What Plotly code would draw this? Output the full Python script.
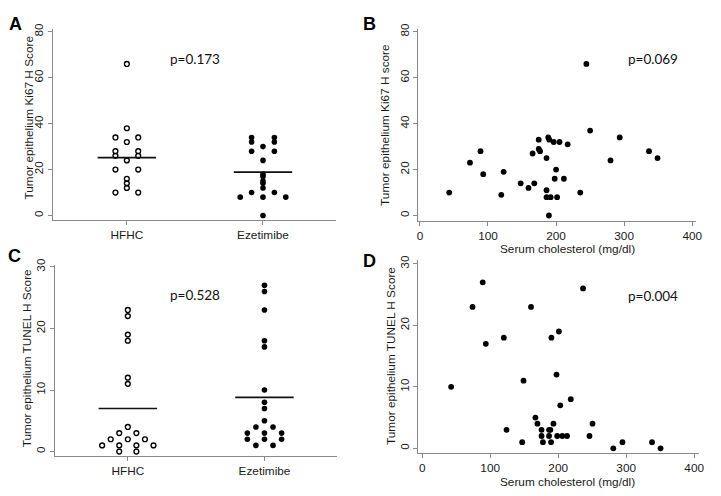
import plotly.graph_objects as go
from collections import Counter, defaultdict

# The page body has an 8px margin; the figure is sized so it fills the rest of the window.
OFF = 8
W, H = 721 - OFF, 496 - OFF

# ---------------- data ----------------
groups = ["HFHC", "Ezetimibe"]

ki67_hfhc = [66, 38, 34, 34, 32, 28, 28, 26, 26, 24, 20, 20, 16, 14, 12, 10, 10]
ki67_eze = [34, 34, 32, 32, 30, 28, 28, 24, 18, 17, 15, 14, 12, 10, 10, 8, 8, 8, 0]
ki67_means = [25.2, 18.9]

tunel_hfhc = [23, 22, 19, 18, 12, 11, 4, 3, 3, 2, 2, 2, 1, 1, 1, 1, 0, 0]
tunel_eze = [27, 26, 23, 18, 17, 10, 8, 7, 5, 4, 4, 3, 3, 3, 2, 2, 2, 1, 1]
tunel_means = [7.0, 8.8]

chol_b = [43, 73.5, 89, 93, 119.5, 123, 148, 159.5, 168, 165.5, 174.5, 174.5, 176.5,
          186, 186, 186, 192, 188.5, 190, 189.5, 196.5, 200, 198, 201.5, 205, 217,
          211.5, 235.5, 244.5, 250, 280, 293.5, 336.5, 349]
ki67_b = [10, 23, 28, 18, 9, 19, 14, 12, 14, 27, 33, 29, 28,
          25, 11, 8, 8, 34, 33, 0, 32, 20, 16, 8, 32, 31,
          16, 10, 66, 37, 24, 34, 28, 25]

chol_d = [42.5, 74, 89, 93.5, 120, 124, 147, 149, 160, 166.5, 169.5, 175.5, 175.5,
          177.5, 186.5, 186.5, 188.5, 190, 189.5, 193, 197.5, 198.5, 201, 203, 206,
          213, 218.5, 236.5, 246, 250.5, 281, 294.5, 338, 350.5]
tunel_d = [10, 23, 27, 17, 18, 3, 1, 11, 23, 5, 4, 3, 2,
           1, 3, 2, 3, 18, 1, 4, 12, 2, 19, 7, 2,
           2, 8, 26, 2, 4, 0, 1, 1, 0]

p_values = ["p=0.173", "p=0.069", "p=0.528", "p=0.004"]
panel_letters = ["A", "B", "C", "D"]
ytitles = ["Tumor epithelium Ki67 H Score", "Tumor epithelium Ki67 H score",
           "Tumor epithelium TUNEL H Score", "Tumor epithelium TUNEL H Score"]
xtitle_scatter = "Serum cholesterol (mg/dl)"


# ---------------- helpers (window pixel -> figure fraction) ----------------
def xd(a, b):
    return [(a - OFF) / W, (b - OFF) / W]


def yd(top, bottom):
    return [1 - (bottom - OFF) / H, 1 - (top - OFF) / H]


def px(x, y):
    return dict(x=(x - OFF) / W, y=1 - (y - OFF) / H, xref="paper", yref="paper")


def dot_offsets(values, spacing):
    counts = Counter(values)
    seen = defaultdict(int)
    offs = []
    for v in values:
        n = counts[v]
        i = seen[v]
        seen[v] += 1
        offs.append((i - (n - 1) / 2) * spacing)
    return offs


DARK = "black"
AXC = "#8a8a8a"
TFONT = dict(family="Arial", size=11.8, color="#1a1a1a")

fig = go.Figure()


def add_dotplot(xa, ya, hfhc, eze, means, spacing, halfw):
    xs = [1 + o for o in dot_offsets(hfhc, spacing)]
    fig.add_trace(go.Scatter(x=xs, y=hfhc, mode="markers", xaxis=xa, yaxis=ya,
                             marker=dict(symbol="circle-open", size=4.8, color=DARK,
                                         line=dict(width=1.4, color=DARK)),
                             showlegend=False))
    xs = [2 + o for o in dot_offsets(eze, spacing)]
    fig.add_trace(go.Scatter(x=xs, y=eze, mode="markers", xaxis=xa, yaxis=ya,
                             marker=dict(symbol="circle", size=5.6, color=DARK),
                             showlegend=False))
    for g, m in zip([1, 2], means):
        fig.add_trace(go.Scatter(x=[g - halfw, g + halfw], y=[m, m], mode="lines",
                                 xaxis=xa, yaxis=ya, line=dict(color="#111", width=1.6),
                                 showlegend=False))


def add_scatter(xa, ya, xv, yv):
    fig.add_trace(go.Scatter(x=xv, y=yv, mode="markers", xaxis=xa, yaxis=ya,
                             marker=dict(symbol="circle", size=5.8, color=DARK),
                             showlegend=False))


add_dotplot("x", "y", ki67_hfhc, ki67_eze, ki67_means, 23 / 137.5, 29.5 / 137.5)
add_scatter("x2", "y2", chol_b, ki67_b)
add_dotplot("x3", "y3", tunel_hfhc, tunel_eze, tunel_means, 17.3 / 138, 29.5 / 138)
add_scatter("x4", "y4", chol_d, tunel_d)

base = dict(showline=True, linecolor=AXC, linewidth=1, ticks="outside", tickcolor=AXC,
            ticklen=3.5, tickwidth=1, showgrid=False, zeroline=False, tickfont=TFONT,
            mirror=False)

layout = dict(
    width=W, height=H, margin=dict(l=0, r=0, t=0, b=0),
    paper_bgcolor="white", plot_bgcolor="white", showlegend=False,
    xaxis=dict(base, domain=xd(52, 338), range=[0.4545, 2.5345], tickvals=[1, 2],
               ticktext=groups, anchor="y"),
    yaxis=dict(base, domain=yd(23, 217), range=[-2.15, 81.3], tickvals=[0, 20, 40, 60, 80],
               tickangle=-90, anchor="x"),
    xaxis2=dict(base, domain=xd(421, 702), range=[-2.9, 405.8],
                tickvals=[0, 100, 200, 300, 400], anchor="y2"),
    yaxis2=dict(base, domain=yd(23, 218), range=[-2.58, 81.3], tickvals=[0, 20, 40, 60, 80],
                tickangle=-90, anchor="x2"),
    xaxis3=dict(base, domain=xd(54, 339), range=[0.4638, 2.529], tickvals=[1, 2],
                ticktext=groups, anchor="y3"),
    yaxis3=dict(base, domain=yd(261.7, 456), range=[-0.8, 30.37], tickvals=[0, 10, 20, 30],
                tickangle=-90, anchor="x3"),
    xaxis4=dict(base, domain=xd(421, 705), range=[-6.3, 407.3],
                tickvals=[0, 100, 200, 300, 400], anchor="y4"),
    yaxis4=dict(base, domain=yd(257, 452.7), range=[-0.8, 30.64], tickvals=[0, 10, 20, 30],
                tickangle=-90, anchor="x4"),
)
fig.update_layout(**layout)

ann = []
letter_pos = [(15, 18), (372, 18), (14, 253), (372, 258)]
for t, (x, y) in zip(panel_letters, letter_pos):
    ann.append(dict(px(x, y), text="<b>%s</b>" % t, showarrow=False, xanchor="center",
                    yanchor="middle",
                    font=dict(family="Arial", size=18, color="black")))

p_pos = [(195.5, 54), (658, 54), (196, 292), (658, 294)]
for t, (x, y) in zip(p_values, p_pos):
    ann.append(dict(px(x, y), text=t, showarrow=False, xanchor="center", yanchor="middle",
                    font=dict(family="Lato", size=13.5, color="#111")))

yt_pos = [(28, 113), (387, 120), (27, 356.7), (394, 354)]
for t, (x, y) in zip(ytitles, yt_pos):
    ann.append(dict(px(x, y), text=t, showarrow=False, xanchor="center", yanchor="middle",
                    textangle=-90, font=TFONT))

for (x, y) in [(572.5, 246), (572, 482)]:
    ann.append(dict(px(x, y), text=xtitle_scatter, showarrow=False, xanchor="center",
                    yanchor="middle", font=TFONT))

fig.update_layout(annotations=ann)
fig.write_html("out.html")
